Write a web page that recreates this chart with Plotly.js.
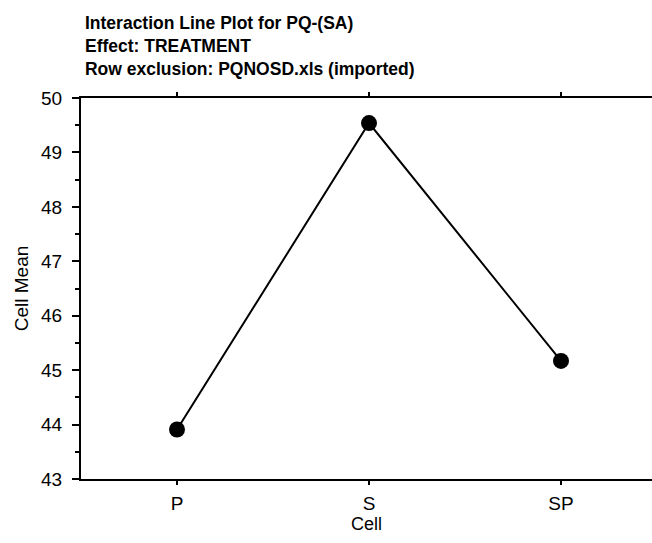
<!DOCTYPE html>
<html>
<head>
<meta charset="utf-8">
<script src="https://cdn.plot.ly/plotly-3.0.1.min.js"></script>
<style>html,body{margin:0;padding:0;background:#fff;}</style>
</head>
<body>
<div id="chart" style="width:652px;height:543px;"></div>
<script>
const cells = ["P", "S", "SP"];
const cellMeans = [43.91, 49.54, 45.17];
const yTickVals = [43, 44, 45, 46, 47, 48, 49, 50];

const font = "Liberation Sans, Arial, Helvetica, sans-serif";

const trace = {
  x: cells,
  y: cellMeans,
  type: "scatter",
  mode: "lines+markers",
  line: {color: "#000", width: 2},
  marker: {color: "#000", size: 16},
  cliponaxis: false,
  hoverinfo: "skip"
};

const layout = {
  width: 652,
  height: 543,
  margin: {l: 81, r: 0, t: 98, b: 64},
  paper_bgcolor: "#fff",
  plot_bgcolor: "#fff",
  showlegend: false,
  font: {family: font, color: "#000", size: 19},
  title: {
    text: "<b>Interaction Line Plot for PQ-(SA)</b><br><b>Effect: TREATMENT</b><br><b>Row exclusion: PQNOSD.xls (imported)</b>",
    font: {family: font, size: 17.5, color: "#000"},
    xref: "paper", x: 0.007, xanchor: "left",
    yref: "container", y: 1 - 29/543, yanchor: "top"
  },
  xaxis: {
    type: "category",
    range: [-0.5, 2.474],
    showline: true, linecolor: "#000", linewidth: 2,
    mirror: "ticks",
    ticks: "outside", ticklen: 4, tickwidth: 2, tickcolor: "#000",
    showgrid: false, zeroline: false,
    tickfont: {family: font, size: 19, color: "#000"},
    ticklabelstandoff: 2,
    title: {text: "Cell", font: {family: font, size: 18, color: "#000"}, standoff: 1},
    automargin: false,
    fixedrange: true
  },
  yaxis: {
    range: [43, 50],
    tickvals: yTickVals,
    ticktext: yTickVals.map(String),
    showline: true, linecolor: "#000", linewidth: 2,
    mirror: false,
    ticks: "outside", ticklen: 7, tickwidth: 2, tickcolor: "#000",
    minor: {dtick: 0.5, ticks: "outside", ticklen: 4, tickwidth: 2, tickcolor: "#000", showgrid: false},
    showgrid: false, zeroline: false,
    tickfont: {family: font, size: 19, color: "#000"},
    ticklabelstandoff: 6,
    title: {text: "Cell Mean", font: {family: font, size: 19, color: "#000"}, standoff: 7},
    automargin: false,
    fixedrange: true
  }
};

Plotly.newPlot("chart", [trace], layout, {staticPlot: true, displayModeBar: false});
</script>
</body>
</html>
